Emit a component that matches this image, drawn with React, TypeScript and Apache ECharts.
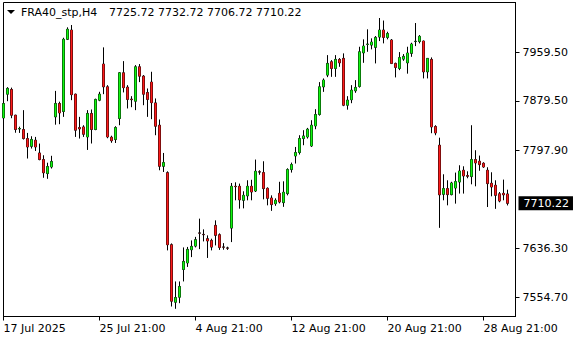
import React, { useEffect, useRef } from "react";
import * as echarts from "echarts";

const symbolTitle = "FRA40_stp,H4";
const ohlcTitle = "7725.72 7732.72 7706.72 7710.22";
const firstLabel = "17 Jul 2025";

const days = [
  "17 Jul", "18 Jul", "21 Jul", "22 Jul", "23 Jul", "24 Jul", "25 Jul",
  "28 Jul", "29 Jul", "30 Jul", "31 Jul", "1 Aug", "4 Aug", "5 Aug",
  "6 Aug", "7 Aug", "8 Aug", "11 Aug", "12 Aug", "13 Aug", "14 Aug",
  "15 Aug", "18 Aug", "19 Aug", "20 Aug", "21 Aug", "22 Aug", "25 Aug",
  "26 Aug", "27 Aug", "28 Aug", "29 Aug", "1 Sep",
];
const sessions = ["09:00", "13:00", "17:00", "21:00"];

const openValues = [
  7851.3, 7890.5, 7898.3, 7855.8, 7833.0, 7832.1, 7817.2, 7804.4, 7814.4, 7793.4,
  7782.5, 7759.4, 7770.3, 7853.0, 7875.1, 7861.9, 7981.1, 7996.4, 7890.5, 7835.4,
  7836.4, 7819.9, 7858.6, 7832.1, 7880.6, 7940.2, 7902.6, 7819.4, 7815.6, 7850.3,
  7925.8, 7902.1, 7882.3, 7878.9, 7935.7, 7920.3, 7893.3, 7910.4, 7876.1, 7839.2,
  7771.4, 7760.9, 7641.9, 7546.9, 7555.2, 7601.0, 7611.8, 7633.6, 7639.6, 7661.4,
  7658.9, 7651.8, 7649.0, 7673.8, 7658.4, 7638.2, 7636.6, 7669.3, 7738.3, 7738.3,
  7715.2, 7722.6, 7738.3, 7730.6, 7762.3, 7761.0, 7735.0, 7719.0, 7709.7, 7726.7,
  7711.4, 7726.3, 7766.0, 7788.5, 7794.1, 7817.2, 7819.9, 7805.0, 7838.1, 7856.9,
  7902.6, 7922.0, 7944.0, 7933.0, 7947.9, 7949.6, 7872.3, 7881.4, 7896.0, 7903.3,
  7958.8, 7972.7, 7971.6, 7967.8, 7984.8, 7996.4, 7984.3, 7979.9, 7941.3, 7933.0,
  7948.4, 7942.3, 7957.9, 7977.4, 7977.4, 7978.2, 7927.4, 7947.9, 7837.1, 7806.2,
  7725.1, 7734.5, 7724.6, 7735.5, 7745.4, 7764.8, 7756.0, 7754.4, 7782.5, 7779.7,
  7776.4, 7764.8, 7743.3, 7740.0, 7725.9, 7726.7, 7725.72,
];
const closeValues = [
  7875.1, 7900.0, 7855.8, 7832.1, 7833.8, 7817.2, 7803.3, 7815.6, 7803.3, 7782.5,
  7760.7, 7771.0, 7779.4, 7875.1, 7859.6, 7981.1, 7997.6, 7889.7, 7831.0, 7833.2,
  7824.3, 7858.6, 7832.1, 7881.8, 7890.5, 7902.6, 7819.9, 7813.6, 7835.4, 7925.8,
  7901.3, 7881.8, 7881.4, 7935.7, 7920.3, 7890.5, 7881.8, 7876.5, 7837.6, 7771.4,
  7777.5, 7641.9, 7548.6, 7554.7, 7572.9, 7614.3, 7634.1, 7639.1, 7650.2, 7660.9,
  7658.4, 7648.2, 7637.9, 7657.3, 7637.4, 7637.7, 7636.1, 7738.3, 7737.8, 7716.0,
  7723.4, 7738.3, 7728.9, 7763.1, 7761.8, 7734.5, 7718.5, 7708.1, 7715.2, 7712.4,
  7728.4, 7766.0, 7774.2, 7794.1, 7817.2, 7821.5, 7832.6, 7839.2, 7856.9, 7902.6,
  7913.7, 7941.3, 7933.0, 7947.9, 7942.3, 7872.3, 7880.6, 7897.1, 7901.6, 7960.5,
  7969.9, 7973.2, 7976.5, 7984.3, 7996.4, 7984.3, 7990.6, 7941.3, 7934.7, 7950.9,
  7952.9, 7958.4, 7973.2, 7977.9, 7986.0, 7927.4, 7949.6, 7836.4, 7826.5, 7724.3,
  7734.5, 7724.6, 7743.8, 7746.1, 7763.6, 7755.4, 7754.9, 7782.5, 7776.9, 7774.2,
  7770.3, 7742.8, 7737.2, 7723.4, 7714.0, 7724.3, 7710.22,
];
const lowValues = [
  7850.8, 7878.9, 7850.8, 7826.8, 7826.5, 7815.6, 7784.2, 7800.7, 7796.7, 7781.3,
  7752.4, 7750.7, 7767.7, 7840.1, 7840.9, 7853.0, 7979.9, 7880.6, 7819.9, 7817.2,
  7819.9, 7798.4, 7809.0, 7831.0, 7878.9, 7890.5, 7817.7, 7810.2, 7809.9, 7839.2,
  7893.4, 7866.9, 7869.0, 7864.1, 7910.4, 7872.3, 7853.0, 7849.2, 7822.7, 7764.8,
  7762.0, 7632.5, 7539.8, 7536.0, 7545.3, 7581.2, 7605.2, 7621.4, 7637.4, 7634.6,
  7647.3, 7620.0, 7632.5, 7640.7, 7633.3, 7633.6, 7633.3, 7646.2, 7715.2, 7701.4,
  7701.9, 7715.2, 7715.2, 7728.9, 7757.4, 7716.8, 7706.9, 7697.8, 7706.1, 7710.2,
  7704.4, 7723.4, 7761.0, 7775.9, 7790.8, 7806.2, 7817.2, 7803.3, 7832.6, 7855.0,
  7894.3, 7918.6, 7919.1, 7919.1, 7935.7, 7870.7, 7864.9, 7875.6, 7892.7, 7901.3,
  7942.3, 7960.5, 7964.5, 7941.3, 7978.2, 7974.4, 7981.1, 7940.2, 7918.2, 7930.2,
  7945.6, 7924.4, 7952.2, 7969.9, 7974.4, 7916.5, 7916.5, 7826.0, 7822.7, 7669.7,
  7715.2, 7706.9, 7723.4, 7709.7, 7726.3, 7726.3, 7751.6, 7741.6, 7738.3, 7764.0,
  7768.9, 7704.1, 7721.8, 7701.1, 7711.9, 7715.2, 7706.72,
];
const highValues = [
  7875.6, 7902.1, 7901.3, 7856.5, 7836.8, 7864.1, 7826.5, 7821.0, 7819.9, 7808.9,
  7789.6, 7777.3, 7788.7, 7895.9, 7878.1, 7983.7, 8000.9, 8004.7, 7891.4, 7853.0,
  7839.2, 7864.1, 7865.2, 7883.1, 7894.4, 7967.8, 7905.4, 7821.9, 7837.6, 7926.9,
  7945.1, 7905.4, 7887.2, 7938.5, 7940.2, 7922.0, 7899.9, 7927.5, 7883.4, 7848.7,
  7793.4, 7763.1, 7644.0, 7581.2, 7581.2, 7637.4, 7638.2, 7649.0, 7654.8, 7684.9,
  7667.2, 7657.3, 7651.8, 7682.1, 7660.6, 7644.5, 7638.6, 7743.8, 7744.9, 7742.8,
  7730.1, 7748.3, 7749.1, 7782.5, 7764.8, 7779.7, 7736.6, 7723.4, 7718.5, 7745.8,
  7746.6, 7768.1, 7777.5, 7803.3, 7822.7, 7831.0, 7834.8, 7847.5, 7865.7, 7910.4,
  7916.5, 7955.0, 7946.8, 7955.0, 7950.1, 7957.9, 7887.2, 7905.4, 7913.7, 7968.8,
  7981.0, 7997.6, 7982.7, 7986.5, 8016.3, 8012.1, 7993.6, 7981.5, 7942.6, 7960.0,
  7956.7, 7968.8, 7975.4, 8008.0, 7988.1, 7979.0, 7950.1, 7951.2, 7839.2, 7818.6,
  7758.2, 7748.3, 7745.8, 7761.0, 7773.1, 7771.4, 7763.1, 7839.2, 7797.9, 7789.1,
  7778.0, 7769.8, 7761.5, 7748.3, 7728.9, 7749.4, 7732.72,
];

const priceTicks = [7554.7, 7636.3, 7797.9, 7879.5, 7959.5];
const lastPrice = 7710.22;
const yMin = 7523.3;
const yMax = 8041.9;

const categories = days
  .flatMap((d) => sessions.map((s) => `${d} ${s}`))
  .slice(3, 3 + 129);

const GREEN = "#10f810";
const RED = "#ff1a1a";
const FONT = "DejaVu Sans";

export default function App() {
  const ref = useRef<HTMLDivElement>(null);

  useEffect(() => {
    if (!ref.current) return;
    const chart = echarts.init(ref.current, null, { renderer: "svg" });
    const data = openValues.map((o, i) => [o, closeValues[i], lowValues[i], highValues[i]]);

    chart.setOption({
      animation: false,
      backgroundColor: "#ffffff",
      textStyle: { fontFamily: FONT },
      grid: {
        left: 3.5,
        right: 64.5,
        top: 2.5,
        bottom: 23.5,
        show: true,
        borderColor: "#000",
        borderWidth: 1,
      },
      xAxis: {
        type: "category",
        data: categories,
        boundaryGap: false,
        axisLine: { show: true, lineStyle: { color: "#000", width: 1 } },
        axisTick: { show: true, interval: 23, length: 4, lineStyle: { color: "#000" } },
        axisLabel: {
          interval: 23,
          align: "left",
          margin: 6,
          color: "#000",
          fontSize: 11,
          fontFamily: FONT,
          formatter: (v: string, i: number) => (i === 0 ? firstLabel : v),
        },
        splitLine: { show: false },
      },
      yAxis: [
        {
          type: "value",
          position: "right",
          min: yMin,
          max: yMax,
          axisLine: { show: true, lineStyle: { color: "#000" } },
          axisTick: { show: true, length: 4, customValues: priceTicks, lineStyle: { color: "#000" } },
          axisLabel: {
            customValues: priceTicks,
            formatter: (v: number) => v.toFixed(2),
            margin: 7,
            color: "#000",
            fontSize: 11,
            fontFamily: FONT,
          },
          splitLine: { show: false },
        },
        {
          type: "value",
          position: "right",
          min: yMin,
          max: yMax,
          axisLine: { show: false },
          axisTick: { show: false },
          splitLine: { show: false },
          axisLabel: {
            customValues: [lastPrice],
            formatter: (v: number) => v.toFixed(2),
            margin: 3,
            color: "#fff",
            backgroundColor: "#000",
            padding: [1, 4, 1, 5],
            lineHeight: 12,
            fontSize: 11,
            fontFamily: FONT,
          },
        },
      ],
      series: [
        {
          name: "outline",
          type: "candlestick",
          data,
          barWidth: 3,
          itemStyle: {
            color: "#000",
            color0: "#000",
            borderColor: "#000",
            borderColor0: "#000",
            borderColorDoji: "#000",
            borderWidth: 1,
          },
        },
        {
          name: "fill",
          type: "candlestick",
          data,
          barWidth: 2,
          z: 3,
          itemStyle: {
            color: GREEN,
            color0: RED,
            borderColor: GREEN,
            borderColor0: RED,
            borderWidth: 0,
          },
        },
      ],
      graphic: [
        {
          type: "polygon",
          shape: { points: [[7, 10], [15, 10], [11, 14]] },
          style: { fill: "#000" },
          z: 100,
        },
        {
          type: "text",
          x: 21,
          y: 12,
          z: 100,
          style: {
            text: symbolTitle,
            fill: "#000",
            font: `11px "${FONT}"`,
            verticalAlign: "middle",
            textVerticalAlign: "middle",
          },
        },
        {
          type: "text",
          x: 109,
          y: 12,
          z: 100,
          style: {
            text: ohlcTitle,
            fill: "#000",
            font: `11px "${FONT}"`,
            verticalAlign: "middle",
            textVerticalAlign: "middle",
          },
        },
      ],
    });

    return () => chart.dispose();
  }, []);

  return (
    <div
      ref={ref}
      style={{ position: "fixed", left: 0, top: 0, width: 580, height: 340, background: "#fff" }}
    />
  );
}
